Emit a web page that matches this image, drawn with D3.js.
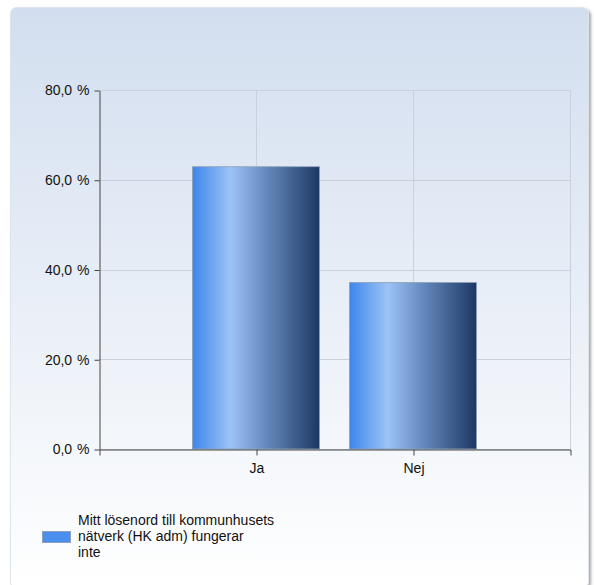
<!DOCTYPE html>
<html><head><meta charset="utf-8">
<script src="https://cdn.jsdelivr.net/npm/d3@7"></script>
<style>body{margin:0;background:#fff;}svg{display:block;font-family:Arial,"Liberation Sans",sans-serif;}</style>
</head><body>
<svg id="chart" width="594" height="585"></svg>
<script>
const categories = ["Ja", "Nej"];
const values = [62.9, 37.1];
const yTicks = [0, 20, 40, 60, 80];
const legendLines = ["Mitt lösenord till kommunhusets", "nätverk (HK adm) fungerar", "inte"];

const svg = d3.select("#chart");
const defs = svg.append("defs");
const bg = defs.append("linearGradient").attr("id","bg").attr("x1",0).attr("y1",0).attr("x2",0).attr("y2",1);
bg.append("stop").attr("offset","0%").attr("stop-color","#d2deef");
bg.append("stop").attr("offset","100%").attr("stop-color","#ffffff");
const bar = defs.append("linearGradient").attr("id","bar").attr("x1",0).attr("y1",0).attr("x2",1).attr("y2",0);
[[0,"#3d86ec"],[0.3,"#9dc3f6"],[0.55,"#6a8fc4"],[1,"#1d3763"]].forEach(([o,c])=>bar.append("stop").attr("offset",o).attr("stop-color",c));
const sh = defs.append("filter").attr("id","sh").attr("x","-5%").attr("y","-5%").attr("width","115%").attr("height","115%");
sh.append("feDropShadow").attr("dx",2).attr("dy",2).attr("stdDeviation",1.5).attr("flood-color","#000").attr("flood-opacity",0.35);

svg.append("rect").attr("x",10.5).attr("y",7.5).attr("width",578).attr("height",580).attr("rx",6)
  .attr("fill","url(#bg)").attr("stroke","#dfe5ec").attr("filter","url(#sh)");

const L=99, R=570, T=90, B=449;
const x = d3.scalePoint().domain(categories).range([L,R]).padding(1);
const y = d3.scaleLinear().domain([0,80]).range([B,T]);

const g = svg.append("g");
g.selectAll(".hg").data(yTicks).join("line").attr("x1",L).attr("x2",R)
  .attr("y1",d=>Math.round(y(d))+0.5).attr("y2",d=>Math.round(y(d))+0.5).attr("stroke","#c9d1dc");
g.selectAll(".vg").data(categories).join("line").attr("y1",T).attr("y2",B)
  .attr("x1",d=>Math.round(x(d))+0.5).attr("x2",d=>Math.round(x(d))+0.5).attr("stroke","#c9d1dc");
g.append("line").attr("x1",R+0.5).attr("x2",R+0.5).attr("y1",T).attr("y2",B).attr("stroke","#c9d1dc");

const bw = 127;
g.selectAll(".bar").data(values).join("rect")
  .attr("x",(d,i)=>x(categories[i])-bw/2).attr("width",bw)
  .attr("y",d=>y(d)).attr("height",d=>B-y(d))
  .attr("fill","url(#bar)").attr("stroke","#8da0b8").attr("stroke-width",0.8);

const yAxis = d3.axisLeft(y).tickValues(yTicks).tickSize(5).tickSizeOuter(0)
  .tickFormat(d=>d3.format(".1f")(d).replace(".",",")+" %");
const ya = svg.append("g").attr("transform",`translate(${L+0.5},0.5)`).call(yAxis);
ya.select(".domain").attr("stroke","#444");
ya.selectAll(".tick line").attr("stroke","#444");
ya.selectAll("text").attr("font-size",14).attr("fill","#111").attr("font-family","Arial,'Liberation Sans',sans-serif").attr("x",-10).attr("word-spacing",1);

const xAxis = d3.axisBottom(x).tickSize(6).tickSizeOuter(6);
const xa = svg.append("g").attr("transform",`translate(0.5,${B+0.5})`).call(xAxis);
xa.select(".domain").attr("stroke","#444");
xa.selectAll(".tick line").attr("stroke","#444");
xa.selectAll("text").attr("font-size",14).attr("fill","#111").attr("font-family","Arial,'Liberation Sans',sans-serif").attr("dy","1.05em");

svg.append("rect").attr("x",42.5).attr("y",531.5).attr("width",28).attr("height",11)
  .attr("fill","#4a8fee").attr("stroke","#8aa0bd");
svg.append("text").attr("x",78).attr("y",525).attr("font-size",14).attr("fill","#111")
  .selectAll("tspan").data(legendLines).join("tspan").attr("x",78).attr("dy",(d,i)=>i?16:0).text(d=>d);
</script>
</body></html>
